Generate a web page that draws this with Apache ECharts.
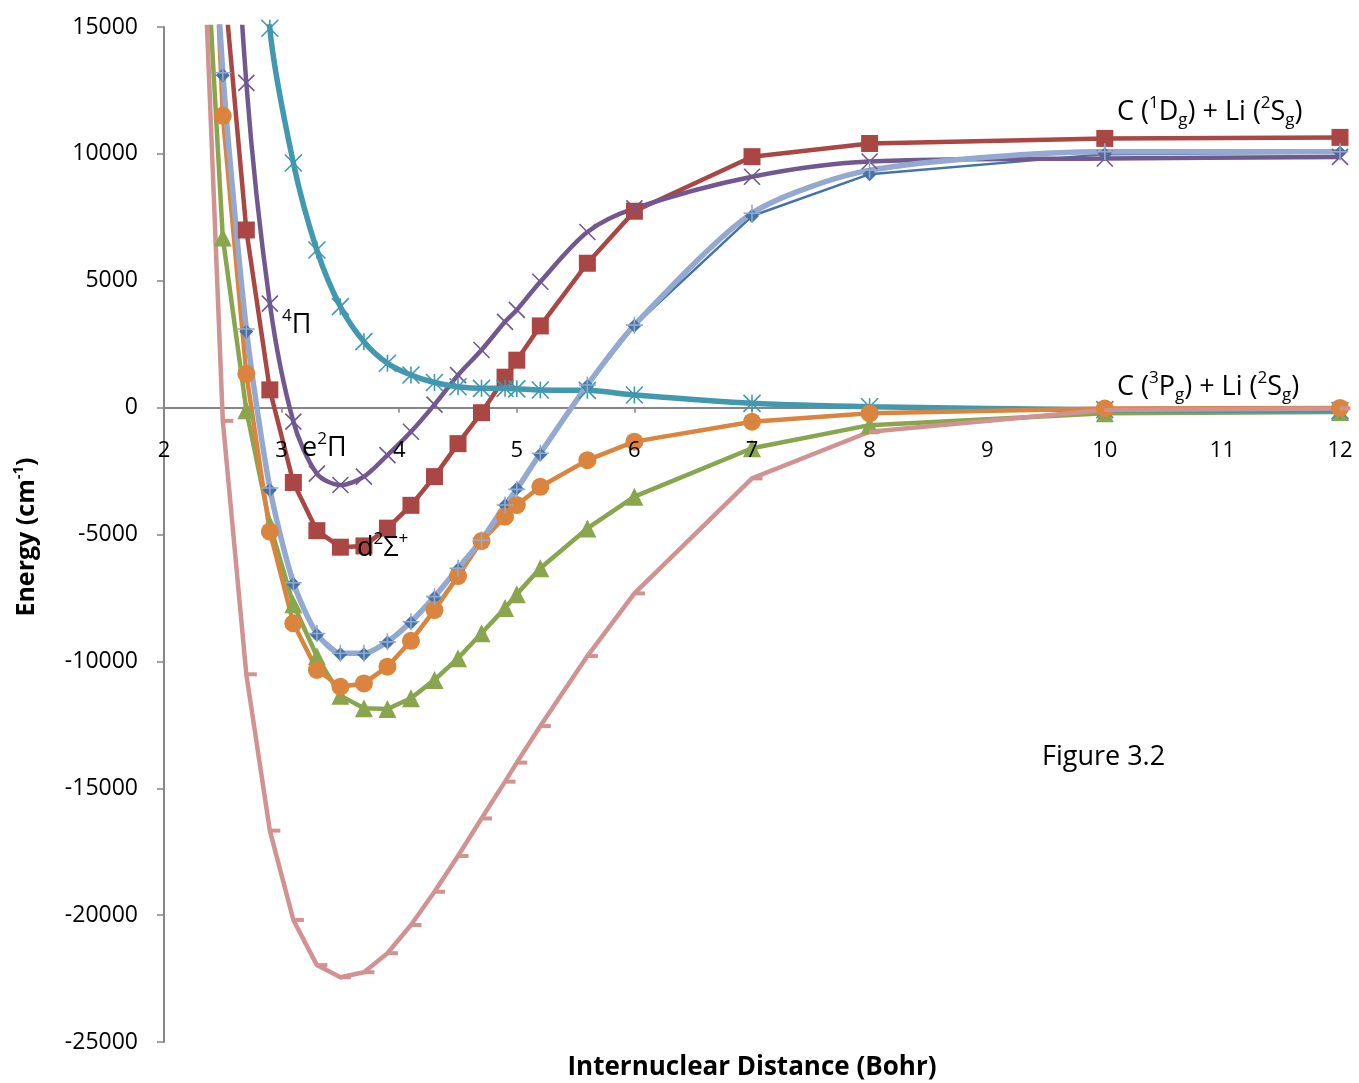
<!DOCTYPE html>
<html>
<head>
<meta charset="utf-8">
<title>CLi potential energy curves</title>
<script src="https://cdn.jsdelivr.net/npm/echarts/dist/echarts.min.js"></script>
<style>
  html, body { margin: 0; padding: 0; background: #ffffff; }
  #chart { width: 1359px; height: 1083px; }
</style>
</head>
<body>
<div id="chart"></div>
<script>
// Internuclear distances (bohr) shared by every curve
const distance = [2.3, 2.5, 2.7, 2.9, 3.1, 3.3, 3.5, 3.7, 3.9, 4.1, 4.3, 4.5, 4.7, 4.9, 5.0, 5.2, 5.6, 6, 7, 8, 10, 12];

// Energies in cm^-1 (null = not computed at that distance)
const blueDiamond   = [28000, 13100, 3000, -3250, -6950, -8950, -9720, -9720, -9260, -8480, -7480, -6380, -5250, -3850, -3200, -1850, 850, 3230, 7550, 9200, 9990, 10050];
const d2SigmaPlus   = [null, 17300, 7000, 700, -2950, -4850, -5500, -5450, -4750, -3850, -2720, -1420, -200, 1200, 1870, 3220, 5690, 7740, 9890, 10410, 10610, 10650];
const greenTriangle = [23300, 6700, -100, -4600, -7750, -9800, -11350, -11850, -11880, -11450, -10730, -9880, -8890, -7900, -7350, -6330, -4760, -3510, -1600, -690, -220, -170];
const e2Pi          = [null, 28500, 12800, 4100, -550, -2600, -3050, -2720, -1870, -950, 120, 1280, 2270, 3380, 3850, 4960, 6920, 7850, 9100, 9700, 9820, 9880];
const quartetPi     = [null, null, 30000, 14950, 9640, 6210, 3980, 2600, 1750, 1285, 990, 824, 760, 760, 740, 694, 680, 497, 169, 35, -80, -120];
const orangeCircle  = [33000, 11500, 1330, -4890, -8500, -10340, -11000, -10870, -10210, -9190, -7980, -6640, -5260, -4300, -3840, -3120, -2070, -1340, -555, -225, -30, -10];
const lightBluePlus = [28200, 13200, 3100, -3170, -6900, -8900, -9680, -9680, -9230, -8440, -7450, -6330, -5220, -3840, -3220, -1800, 890, 3250, 7660, 9360, 10085, 10085];
const pinkDash      = [22600, -520, -10510, -16670, -20190, -21970, -22450, -22250, -21500, -20390, -19080, -17670, -16190, -14740, -13990, -12550, -9790, -7320, -2790, -950, -95, -30];

// Axis ticks
const xTicks = { min: 2, max: 12, step: 1 };
const yTicks = { min: -25000, max: 15000, step: 5000 };

const FONT = '"Open Sans", "Liberation Sans", sans-serif';

const SYM_X    = 'path://M0,0L10,10M10,0L0,10';
const SYM_STAR = 'path://M5,0L5,10M0,0L10,10M10,0L0,10';
const SYM_PLUS = 'path://M5,0L5,10M0,5L10,5';

// plot frame
const GRID = { left: 164, right: 19, top: 27, bottom: 41 };
const PLOT_H = 1083 - GRID.top - GRID.bottom;
// the distance axis sits on E = 0; shift it up from the bottom edge by that fraction of the plot height
const xAxisLift = -PLOT_H * (0 - yTicks.min) / (yTicks.max - yTicks.min);

function pairs(vals) {
  const out = [];
  distance.forEach((r, i) => { if (vals[i] != null) out.push([r, vals[i]]); });
  return out;
}

function curve(name, vals, color, opts) {
  const stroked = opts.stroked;
  return {
    name: name,
    type: 'line',
    xAxisIndex: 0,
    yAxisIndex: 0,
    data: pairs(vals),
    smooth: opts.smooth || false,
    symbol: opts.symbol,
    symbolSize: opts.size,
    symbolOffset: opts.offset || [0, 0],
    showAllSymbol: true,
    clip: true,
    lineStyle: { color: color, width: opts.width },
    itemStyle: stroked
      ? { color: color, borderColor: color, borderWidth: opts.strokeWidth || 1.6 }
      : { color: color, borderWidth: 0 },
    emphasis: { disabled: true },
    animation: false
  };
}

const series = [
  curve('blueDiamond',   blueDiamond,   '#4572A7', { symbol: 'diamond', size: 14, width: 2.5 }),
  curve('d2SigmaPlus',   d2SigmaPlus,   '#AA4643', { symbol: 'rect', size: 17, width: 4.5 }),
  curve('greenTriangle', greenTriangle, '#89A54E', { symbol: 'triangle', size: 18, width: 4.5 }),
  curve('e2Pi',          e2Pi,          '#71588F', { symbol: SYM_X, size: 16, width: 4.5, stroked: true, smooth: 0.3 }),
  curve('quartetPi',     quartetPi,     '#4198AF', { symbol: SYM_STAR, size: 17, width: 5.5, stroked: true, smooth: 0.3 }),
  curve('orangeCircle',  orangeCircle,  '#DB843D', { symbol: 'circle', size: 18, width: 4.5 }),
  curve('lightBluePlus', lightBluePlus, '#93A9CF', { symbol: SYM_PLUS, size: 17, width: 5.5, stroked: true, smooth: 0.25 }),
  curve('pinkDash',      pinkDash,      '#D19392', { symbol: 'rect', size: [11, 4], offset: [5, 0], width: 4.5 })
];

// rich-text styles for state labels
const rich = {
  n:   { fontFamily: FONT, fontSize: 27, lineHeight: 34, color: '#000', verticalAlign: 'middle' },
  sup: { fontFamily: FONT, fontSize: 17, lineHeight: 17, color: '#000', verticalAlign: 'top' },
  sub: { fontFamily: FONT, fontSize: 17, lineHeight: 17, color: '#000', verticalAlign: 'bottom' }
};

function label(x, y, text, align) {
  return {
    type: 'text', x: x, y: y, z: 100,
    style: { text: text, rich: rich, align: align || 'left', verticalAlign: 'middle', fill: '#000' }
  };
}

const xCommon = {
  type: 'value', min: xTicks.min, max: xTicks.max, interval: xTicks.step,
  position: 'bottom', offset: xAxisLift,
  splitLine: { show: false }
};

const chart = echarts.init(document.getElementById('chart'), null, { renderer: 'canvas' });
chart.setOption({
  backgroundColor: '#ffffff',
  animation: false,
  grid: { left: GRID.left, right: GRID.right, top: GRID.top, bottom: GRID.bottom, containLabel: false },
  xAxis: [
    // axis line and ticks, drawn beneath the curves
    Object.assign({}, xCommon, {
      axisLine: { show: true, onZero: false, lineStyle: { color: '#868686', width: 2 } },
      axisTick: { show: true, length: 5, lineStyle: { color: '#868686', width: 1.5 } },
      axisLabel: { show: false }
    }),
    // tick labels, drawn above the curves
    Object.assign({}, xCommon, {
      z: 20,
      axisLine: { show: false, onZero: false },
      axisTick: { show: false },
      axisLabel: { show: true, margin: 32, fontFamily: FONT, fontSize: 22, color: '#000' }
    })
  ],
  yAxis: {
    type: 'value', min: yTicks.min, max: yTicks.max, interval: yTicks.step,
    axisLine: { show: true, onZero: false, lineStyle: { color: '#868686', width: 2 } },
    axisTick: { show: true, length: 7, lineStyle: { color: '#868686', width: 1.5 } },
    axisLabel: { margin: 26, fontFamily: FONT, fontSize: 23, color: '#000', formatter: (v) => String(v) },
    splitLine: { show: false }
  },
  series: series,
  graphic: [
    label(1117, 112, '{n|C (}{sup|1}{n|D}{sub|g}{n|) + Li (}{sup|2}{n|S}{sub|g}{n|)}'),
    label(1117, 387, '{n|C (}{sup|3}{n|P}{sub|g}{n|) + Li (}{sup|2}{n|S}{sub|g}{n|)}'),
    label(282, 325, '{sup|4}{n|Π}'),
    label(302, 448, '{n|e}{sup|2}{n|Π}'),
    label(357, 548, '{n|d}{sup|2}{n|Σ}{sup|+}'),
    {
      type: 'text', x: 1042, y: 757, z: 100,
      style: { text: 'Figure 3.2', font: '27px ' + FONT, fill: '#000', align: 'left', verticalAlign: 'middle' }
    },
    {
      type: 'text', x: 752, y: 1068, z: 100,
      style: { text: 'Internuclear Distance (Bohr)', font: 'bold 26px ' + FONT, fill: '#000', align: 'center', verticalAlign: 'middle' }
    },
    {
      type: 'text', x: 27, y: 537, rotation: Math.PI / 2, z: 100,
      style: {
        text: '{b|Energy (cm}{s|-1}{b|)}',
        rich: {
          b: { fontFamily: FONT, fontWeight: 'bold', fontSize: 25, lineHeight: 32, color: '#000', verticalAlign: 'middle' },
          s: { fontFamily: FONT, fontWeight: 'bold', fontSize: 15, lineHeight: 15, color: '#000', verticalAlign: 'top' }
        },
        align: 'center', verticalAlign: 'middle'
      }
    }
  ]
});
</script>
</body>
</html>
